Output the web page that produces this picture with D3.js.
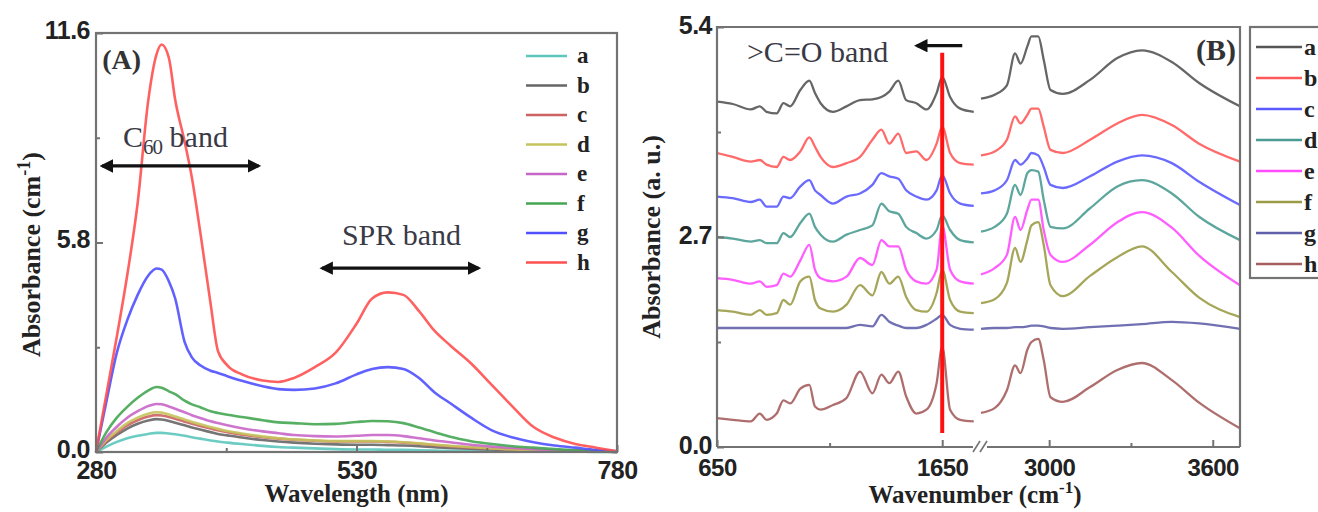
<!DOCTYPE html>
<html><head><meta charset="utf-8">
<script src="https://cdn.jsdelivr.net/npm/d3@7"></script>
<style>
html,body{margin:0;padding:0;background:#fff;overflow:hidden}
svg{display:block}
</style></head><body>
<svg id="c" width="1318" height="512"></svg>
<script>
// ---------------- DATA ----------------
const seriesNames = ["a","b","c","d","e","f","g","h"];

// Panel A: UV-vis absorbance (cm^-1) vs wavelength (nm)
const wavelength = [280,290,300,310,320,330,338,343,350,356,365,372,380,390,397,406,420,440,455,470,490,510,530,545,560,575,590,605,620,640,660,680,700,720,740,760,780];
const absA_a = [0,0.15,0.28,0.38,0.45,0.5,0.53,0.53,0.51,0.49,0.45,0.41,0.37,0.32,0.29,0.26,0.22,0.17,0.14,0.12,0.1,0.08,0.07,0.07,0.06,0.06,0.05,0.04,0.03,0.03,0.02,0.02,0.01,0.01,0.01,0,0];
const absA_b = [0,0.26,0.47,0.65,0.78,0.87,0.91,0.9,0.86,0.81,0.74,0.68,0.62,0.55,0.5,0.46,0.4,0.33,0.29,0.26,0.23,0.21,0.2,0.2,0.19,0.18,0.16,0.13,0.11,0.09,0.07,0.05,0.04,0.03,0.02,0.01,0];
const absA_c = [0,0.3,0.54,0.74,0.88,0.98,1.02,1.01,0.97,0.92,0.84,0.78,0.72,0.65,0.6,0.55,0.48,0.41,0.37,0.34,0.31,0.29,0.29,0.29,0.28,0.26,0.23,0.19,0.16,0.12,0.09,0.07,0.05,0.04,0.03,0.02,0];
const absA_d = [0,0.33,0.58,0.8,0.95,1.06,1.1,1.09,1.04,0.98,0.9,0.83,0.77,0.69,0.64,0.58,0.51,0.43,0.38,0.35,0.32,0.3,0.3,0.3,0.29,0.27,0.24,0.2,0.17,0.13,0.1,0.07,0.05,0.04,0.03,0.02,0];
const absA_e = [0,0.4,0.7,0.95,1.13,1.27,1.33,1.32,1.26,1.2,1.1,1.02,0.94,0.85,0.8,0.74,0.66,0.57,0.52,0.47,0.44,0.43,0.45,0.47,0.47,0.44,0.38,0.32,0.27,0.2,0.15,0.11,0.08,0.05,0.03,0.02,0];
const absA_f = [0,0.55,0.95,1.25,1.5,1.7,1.8,1.78,1.68,1.6,1.42,1.32,1.24,1.13,1.08,1.03,0.97,0.88,0.82,0.8,0.77,0.78,0.83,0.86,0.85,0.8,0.68,0.55,0.42,0.3,0.22,0.16,0.12,0.08,0.05,0.03,0];
const absA_g = [0,1.4,2.75,3.65,4.35,4.88,5.08,5.05,4.72,4.25,3.05,2.62,2.4,2.25,2.19,2.1,1.97,1.82,1.74,1.72,1.76,1.9,2.15,2.3,2.35,2.3,2.05,1.65,1.35,0.95,0.6,0.4,0.27,0.18,0.12,0.06,0.02];
const absA_h = [0,1.6,3.2,4.9,6.9,9.7,11.0,11.28,10.9,9.75,8.6,7.6,6.1,4.1,2.8,2.4,2.15,1.98,1.94,2.05,2.35,2.75,3.55,4.25,4.42,4.35,3.9,3.35,2.95,2.45,1.85,1.25,0.69,0.4,0.22,0.12,0.02];
const xTicksA = [280,530,780], xMinorA = [405,655];
const yTicksA = [0,5.8,11.6], yMinorA = [2.9,8.7];

// Panel B: FTIR absorbance (a.u.) vs wavenumber (cm^-1), broken axis
const wnLeft = [650,720,800,840,870,915,945,975,1020,1060,1085,1110,1165,1225,1285,1340,1380,1415,1455,1490,1535,1580,1625,1650,1685,1730,1790];
const wnRight = [2750,2800,2845,2875,2895,2920,2935,2960,2980,3005,3050,3150,3250,3340,3450,3550,3700];
const ftirL_a = [4.44,4.41,4.34,4.38,4.31,4.29,4.42,4.38,4.59,4.71,4.55,4.42,4.31,4.38,4.46,4.47,4.50,4.57,4.71,4.46,4.42,4.34,4.55,4.76,4.50,4.35,4.31];
const ftirL_b = [3.78,3.73,3.67,3.69,3.63,3.60,3.73,3.69,3.80,3.98,3.86,3.73,3.60,3.65,3.73,3.95,4.08,3.90,4.03,3.78,3.80,3.69,3.90,4.12,3.78,3.65,3.63];
const ftirL_c = [3.22,3.20,3.15,3.18,3.09,3.09,3.22,3.20,3.35,3.43,3.30,3.24,3.13,3.22,3.26,3.37,3.52,3.48,3.45,3.30,3.22,3.18,3.30,3.50,3.26,3.13,3.10];
const ftirL_d = [2.70,2.68,2.64,2.66,2.62,2.62,2.75,2.70,2.88,3.00,2.83,2.73,2.64,2.73,2.79,2.85,3.13,3.03,3.00,2.83,2.75,2.68,2.79,2.98,2.79,2.66,2.63];
const ftirL_e = [2.17,2.15,2.10,2.13,2.06,2.08,2.23,2.19,2.40,2.60,2.28,2.17,2.13,2.19,2.43,2.34,2.66,2.58,2.58,2.28,2.13,2.10,2.28,2.85,2.28,2.13,2.10];
const ftirL_f = [1.76,1.74,1.70,1.76,1.70,1.72,1.89,1.83,2.13,2.19,1.89,1.78,1.74,1.83,2.08,1.95,2.25,2.10,2.19,1.93,1.76,1.74,1.98,2.28,1.89,1.74,1.72];
const ftirL_g = [1.53,1.53,1.53,1.53,1.53,1.53,1.53,1.53,1.53,1.53,1.53,1.53,1.53,1.53,1.57,1.55,1.70,1.61,1.56,1.53,1.53,1.57,1.65,1.70,1.57,1.52,1.51];
const ftirL_h = [0.37,0.35,0.33,0.43,0.35,0.43,0.60,0.56,0.75,0.80,0.52,0.48,0.54,0.63,0.97,0.69,0.93,0.82,0.97,0.65,0.43,0.48,0.82,1.29,0.48,0.35,0.33];
const ftirR_a = [4.48,4.53,4.65,5.06,4.93,5.15,5.28,5.28,4.98,4.59,4.54,4.72,5.00,5.10,4.95,4.68,4.38];
const ftirR_b = [3.75,3.80,3.95,4.25,4.16,4.27,4.35,4.35,4.12,3.82,3.78,3.95,4.16,4.27,4.14,3.90,3.67];
const ftirR_c = [3.26,3.30,3.43,3.69,3.63,3.71,3.78,3.75,3.60,3.37,3.33,3.48,3.67,3.75,3.65,3.41,3.11];
const ftirR_d = [2.77,2.83,3.00,3.37,3.24,3.52,3.56,3.54,3.18,2.83,2.81,3.07,3.35,3.43,3.26,2.96,2.66];
const ftirR_e = [2.22,2.30,2.47,2.96,2.79,3.05,3.18,3.18,2.79,2.47,2.38,2.60,2.89,3.02,2.82,2.46,2.08];
const ftirR_f = [1.85,1.90,2.11,2.56,2.38,2.66,2.85,2.89,2.60,2.08,1.94,2.20,2.44,2.58,2.25,1.92,1.67];
const ftirR_g = [1.52,1.53,1.53,1.54,1.54,1.55,1.56,1.56,1.55,1.53,1.52,1.54,1.56,1.58,1.61,1.59,1.52];
const ftirR_h = [0.44,0.50,0.73,1.05,0.95,1.25,1.35,1.39,1.12,0.64,0.58,0.77,0.99,1.08,0.86,0.57,0.24];
const xTicksB = [650,1650,3000,3600], xMinorB = [1150,3300];
const yTicksB = [0,2.7,5.4], yMinorB = [1.35,4.05];
const carbonylWn = 1650, carbonylRange = [0.18,5.07];

// ---------------- STYLE ----------------
const colorsA = ["#5cc6bd","#666666","#cc6262","#c4c45c","#c866c8","#44a652","#5050ff","#ff5050"];
const colorsB = ["#555555","#ff5a5a","#5a5aff","#4a9c92","#ff4cff","#9c9c48","#6060aa","#a65e5e"];
const SERIF = "'Liberation Serif','Times New Roman',serif";
const SANS = "'Liberation Sans',Arial,sans-serif";
const FRAME = "#737373";

const svg = d3.select("#c");

// ================= PANEL A =================
const xA = d3.scaleLinear().domain([280,780]).range([96,617]);
const yA = d3.scaleLinear().domain([0,11.6]).range([452,33]);
const gA = svg.append("g");

const seriesA = [absA_a,absA_b,absA_c,absA_d,absA_e,absA_f,absA_g,absA_h];
const lineA = d3.line().x((d,i)=>xA(wavelength[i])).y(d=>yA(d)).curve(d3.curveMonotoneX);
seriesA.forEach((s,i)=>{
  gA.append("path").attr("d",lineA(s)).attr("fill","none")
    .attr("stroke",colorsA[i]).attr("stroke-width",2.6).attr("stroke-opacity",0.9)
    .attr("stroke-linejoin","round");
});

function styleAxis(g, size){
  g.select(".domain").remove();
  g.selectAll(".tick line").attr("stroke",FRAME).attr("stroke-width",2);
  g.selectAll(".tick text").attr("font-family",SANS).attr("font-weight","bold")
    .attr("font-size",size).attr("fill","#222").attr("letter-spacing","-0.5");
}
gA.append("g").attr("transform",`translate(0,${yA(0)})`)
  .call(d3.axisBottom(xA).tickValues(xTicksA).tickSize(-7).tickPadding(9).tickFormat(d3.format("d")))
  .call(g=>styleAxis(g,25));
gA.append("g").attr("transform",`translate(0,${yA(0)})`)
  .call(d3.axisBottom(xA).tickValues(xMinorA).tickSize(-4).tickFormat(""))
  .call(g=>styleAxis(g,25));
gA.append("g").attr("transform",`translate(${xA(280)},0)`)
  .call(d3.axisLeft(yA).tickValues(yTicksA).tickSize(-7).tickPadding(6).tickFormat(d3.format(".1f")))
  .call(g=>styleAxis(g,25))
  .call(g=>g.selectAll(".tick text").attr("dy","0.2em"));
gA.append("g").attr("transform",`translate(${xA(280)},0)`)
  .call(d3.axisLeft(yA).tickValues(yMinorA).tickSize(-4).tickFormat(""))
  .call(g=>styleAxis(g,25));

gA.append("rect").attr("x",xA(280)).attr("y",yA(11.6))
  .attr("width",xA(780)-xA(280)).attr("height",yA(0)-yA(11.6))
  .attr("fill","none").attr("stroke",FRAME).attr("stroke-width",2.2);

// axis titles A
gA.append("text").attr("x",(xA(280)+xA(780))/2).attr("y",502).attr("text-anchor","middle")
  .attr("font-family",SERIF).attr("font-weight","bold").attr("font-size",25).attr("fill","#222")
  .text("Wavelength (nm)");
const ylabA = gA.append("text").attr("transform",`translate(40,${(yA(0)+yA(11.6))/2+12}) rotate(-90)`)
  .attr("text-anchor","middle").attr("font-family",SERIF).attr("font-weight","bold")
  .attr("font-size",26).attr("fill","#222");
ylabA.append("tspan").text("Absorbance (cm");
ylabA.append("tspan").attr("dy",-10).attr("font-size",18).text("-1");
ylabA.append("tspan").attr("dy",10).text(")");

// panel label
gA.append("text").attr("x",xA(286)).attr("y",yA(10.6)).attr("font-family",SERIF)
  .attr("font-weight","bold").attr("font-size",28).attr("fill","#333").text("(A)");

// annotations A
const defs = svg.append("defs");
defs.append("marker").attr("id","ah").attr("viewBox","0 0 10 10").attr("refX",8).attr("refY",5)
  .attr("markerWidth",4.2).attr("markerHeight",4.2).attr("orient","auto-start-reverse")
  .append("path").attr("d","M0,0 L10,5 L0,10 z").attr("fill","#111");
function dblArrow(g,x1,x2,y){
  g.append("line").attr("x1",x1).attr("x2",x2).attr("y1",y).attr("y2",y)
    .attr("stroke","#111").attr("stroke-width",3.2)
    .attr("marker-start","url(#ah)").attr("marker-end","url(#ah)");
}
const c60 = gA.append("text").attr("x",xA(306)).attr("y",yA(8.44)).attr("font-family",SERIF)
  .attr("font-size",30).attr("fill","#3a3a46");
c60.append("tspan").text("C");
c60.append("tspan").attr("dy",7).attr("font-size",21).attr("letter-spacing","-1").text("60");
c60.append("tspan").attr("dy",-7).text(" band");
dblArrow(gA,xA(286),xA(436),yA(7.92));
gA.append("text").attr("x",xA(516)).attr("y",yA(5.73)).attr("font-family",SERIF)
  .attr("font-size",30).attr("fill","#3a3a46").text("SPR band");
dblArrow(gA,xA(497),xA(647),yA(5.09));

// legend A
seriesNames.forEach((n,i)=>{
  const y = 56 + i*29.5;
  gA.append("line").attr("x1",526).attr("x2",567).attr("y1",y).attr("y2",y)
    .attr("stroke",colorsA[i]).attr("stroke-width",2.6);
  gA.append("text").attr("x",577).attr("y",y).attr("dy","0.32em").attr("font-family",SERIF)
    .attr("font-weight","bold").attr("font-size",23).attr("fill","#222").text(n);
});

// ================= PANEL B =================
const xB = d3.scaleLinear().domain([650,1800,2750,3700]).range([717,976,981,1240]);
const yB = d3.scaleLinear().domain([0,5.4]).range([447,27]);
const gB = svg.append("g");

const seriesBL = [ftirL_a,ftirL_b,ftirL_c,ftirL_d,ftirL_e,ftirL_f,ftirL_g,ftirL_h];
const seriesBR = [ftirR_a,ftirR_b,ftirR_c,ftirR_d,ftirR_e,ftirR_f,ftirR_g,ftirR_h];
const lineBL = d3.line().x((d,i)=>xB(wnLeft[i])).y(d=>yB(d)).curve(d3.curveMonotoneX);
const lineBR = d3.line().x((d,i)=>xB(wnRight[i])).y(d=>yB(d)).curve(d3.curveMonotoneX);
seriesNames.forEach((n,i)=>{
  [lineBL(seriesBL[i]), lineBR(seriesBR[i])].forEach(dd=>{
    gB.append("path").attr("d",dd).attr("fill","none").attr("stroke",colorsB[i])
      .attr("stroke-width",2.3).attr("stroke-opacity",0.9).attr("stroke-linejoin","round");
  });
});

// carbonyl marker line
gB.append("line").attr("x1",xB(carbonylWn)).attr("x2",xB(carbonylWn))
  .attr("y1",yB(carbonylRange[0])).attr("y2",yB(carbonylRange[1]))
  .attr("stroke","#ff1010").attr("stroke-width",4);

gB.append("g").attr("transform",`translate(0,${yB(0)})`)
  .call(d3.axisBottom(xB).tickValues(xTicksB).tickSize(-7).tickPadding(12).tickFormat(d3.format("d")))
  .call(g=>styleAxis(g,24));
gB.append("g").attr("transform",`translate(0,${yB(0)})`)
  .call(d3.axisBottom(xB).tickValues(xMinorB).tickSize(-4).tickFormat(""))
  .call(g=>styleAxis(g,24));
gB.append("g").attr("transform",`translate(${xB(650)},0)`)
  .call(d3.axisLeft(yB).tickValues(yTicksB).tickSize(-7).tickPadding(5).tickFormat(d3.format(".1f")))
  .call(g=>styleAxis(g,25))
  .call(g=>g.selectAll(".tick text").attr("dy","0.25em"));
gB.append("g").attr("transform",`translate(${xB(650)},0)`)
  .call(d3.axisLeft(yB).tickValues(yMinorB).tickSize(-4).tickFormat(""))
  .call(g=>styleAxis(g,25));

// frame with break
const fB = gB.append("g").attr("stroke",FRAME).attr("stroke-width",2.2).attr("fill","none");
fB.append("path").attr("d",`M${xB(650)},${yB(0)} V${yB(5.4)} H${xB(3700)} V${yB(0)}`);
fB.append("line").attr("x1",xB(650)).attr("x2",xB(1800)-3).attr("y1",yB(0)).attr("y2",yB(0));
fB.append("line").attr("x1",xB(2750)+6).attr("x2",xB(3700)).attr("y1",yB(0)).attr("y2",yB(0));
fB.append("line").attr("x1",xB(1800)-3).attr("x2",xB(1800)+4).attr("y1",yB(0)+5).attr("y2",yB(0)-6).attr("stroke-width",1.6);
fB.append("line").attr("x1",xB(2750)-1).attr("x2",xB(2750)+6).attr("y1",yB(0)+5).attr("y2",yB(0)-6).attr("stroke-width",1.6);

// titles B
const xlabB = gB.append("text").attr("x",975).attr("y",503).attr("text-anchor","middle")
  .attr("font-family",SERIF).attr("font-weight","bold").attr("font-size",25).attr("fill","#222");
xlabB.append("tspan").text("Wavenumber (cm");
xlabB.append("tspan").attr("dy",-10).attr("font-size",17).text("-1");
xlabB.append("tspan").attr("dy",10).text(")");
gB.append("text").attr("transform",`translate(660,${(yB(0)+yB(5.4))/2}) rotate(-90)`)
  .attr("text-anchor","middle").attr("font-family",SERIF).attr("font-weight","bold")
  .attr("font-size",26).attr("fill","#222").text("Absorbance (a. u.)");

gB.append("text").attr("x",xB(3700)-4).attr("y",yB(4.98)).attr("text-anchor","end")
  .attr("font-family",SERIF).attr("font-weight","bold").attr("font-size",30).attr("fill","#333").text("(B)");

// annotation B
gB.append("text").attr("x",xB(783)).attr("y",yB(4.95)).attr("font-family",SERIF)
  .attr("font-size",30).attr("fill","#3a3a46").text(">C=O band");
gB.append("line").attr("x1",xB(1739)).attr("x2",xB(1537)).attr("y1",yB(5.16)).attr("y2",yB(5.16))
  .attr("stroke","#111").attr("stroke-width",3.2).attr("marker-end","url(#ah)");

// legend B
gB.append("rect").attr("x",1250).attr("y",27).attr("width",120).attr("height",251)
  .attr("fill","#fff").attr("stroke",FRAME).attr("stroke-width",2.2);
seriesNames.forEach((n,i)=>{
  const y = 47 + i*31;
  gB.append("line").attr("x1",1256).attr("x2",1302).attr("y1",y).attr("y2",y)
    .attr("stroke",colorsB[i]).attr("stroke-width",2.6);
  gB.append("text").attr("x",1304).attr("y",y).attr("dy","0.32em").attr("font-family",SERIF)
    .attr("font-weight","bold").attr("font-size",24).attr("fill","#222").text(n);
});
</script>
</body></html>
